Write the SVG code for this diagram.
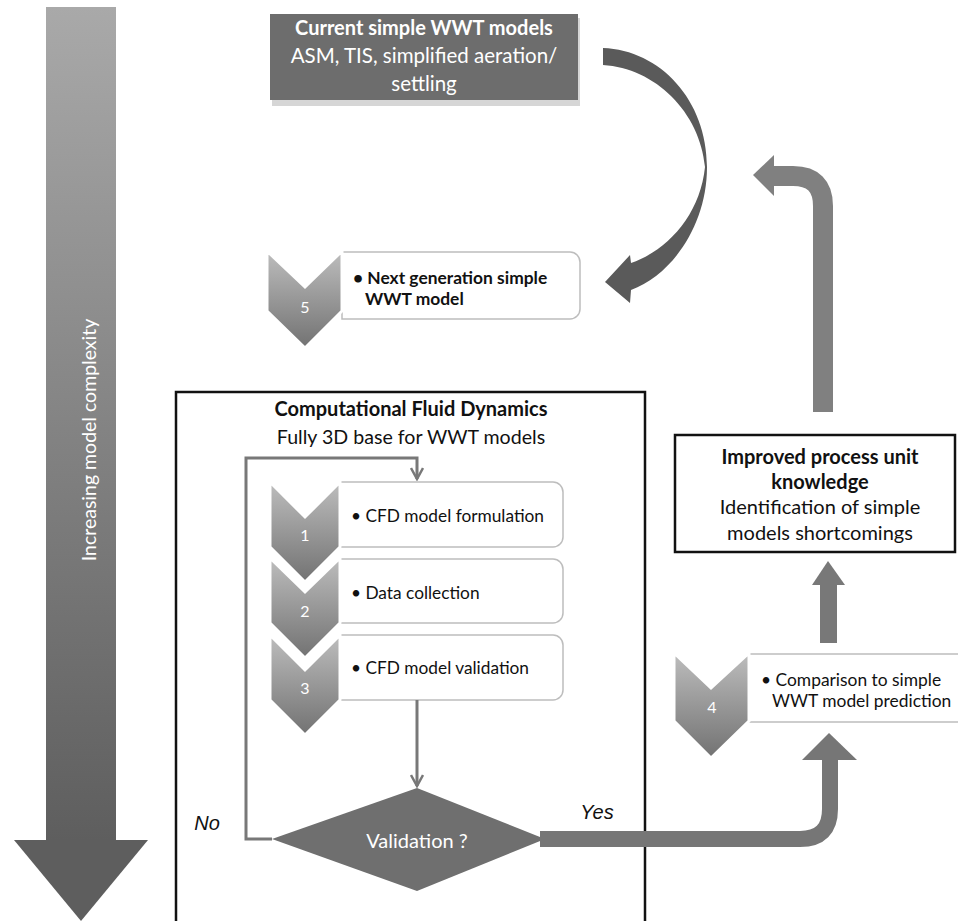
<svg xmlns="http://www.w3.org/2000/svg" width="958" height="921" viewBox="0 0 958 921">
<style>
.t{font-family:Lato,"Open Sans","Liberation Sans",sans-serif;}
.b{font-weight:bold;}
.w{fill:#ffffff;}
.k{fill:#111111;}
.it{font-family:"Liberation Sans",Arial,sans-serif;font-style:italic;font-size:20px;fill:#111;}
.chev{fill:url(#chevGrad);stroke:#ffffff;stroke-width:3;}
.box{fill:#ffffff;stroke:#bdbdbd;stroke-width:1.5;}
.num{font-family:Lato,"Open Sans",sans-serif;font-size:16px;fill:#ffffff;text-anchor:middle;}
.thin{fill:none;stroke:#787878;stroke-width:3;}
.frame{fill:none;stroke:#111;stroke-width:2.5;}
</style>
<defs>
<linearGradient id="chevGrad" x1="0" y1="0" x2="0" y2="1">
<stop offset="0" stop-color="#bdbdbd"/>
<stop offset="1" stop-color="#727272"/>
</linearGradient>
<linearGradient id="bigGrad" x1="0" y1="0" x2="0" y2="1">
<stop offset="0" stop-color="#a9a9a9"/>
<stop offset="1" stop-color="#5e5e5e"/>
</linearGradient>
<marker id="vhead" viewBox="0 0 14 14" refX="12" refY="7" markerWidth="14" markerHeight="14" orient="auto" markerUnits="userSpaceOnUse">
<path d="M1,1 L12,7 L1,13" fill="none" stroke="#787878" stroke-width="2.5"/>
</marker>
</defs>
<rect width="958" height="921" fill="#ffffff"/>

<g id="complexity-arrow">
<rect x="46" y="7" width="70" height="834" fill="url(#bigGrad)"/>
<polygon points="14,840 148,840 81,921" fill="#5e5e5e"/>
<text class="t w" font-size="19.5" transform="translate(88,440) rotate(-90)" text-anchor="middle" dominant-baseline="central">Increasing model complexity</text>
</g>

<g id="current-models">
<rect x="272" y="18" width="308" height="88" fill="#d6d6d6"/>
<rect x="270" y="14" width="308" height="86" fill="#6d6d6d"/>
<text class="t w b" font-size="20" x="424" y="35" text-anchor="middle">Current simple WWT models</text>
<text class="t w" font-size="20.5" x="424" y="63" text-anchor="middle">ASM, TIS, simplified aeration/</text>
<text class="t w" font-size="20.5" x="424" y="91" text-anchor="middle">settling</text>
</g>

<g id="next-gen">
<path class="box" d="M342,252 H570 A10,10 0 0 1 580,262 V309 A10,10 0 0 1 570,319 H342 Z"/>
<polygon class="chev" points="267,251 305,287 342,251 342,311 305,348 267,311"/>
<text class="num" x="305" y="313">5</text>
<text class="t b k" font-size="17.4" x="353" y="284">• Next generation simple<tspan x="365" y="305">WWT model</tspan></text>
</g>

<g id="cfd-frame">
<path class="frame" d="M176,925 V392 H645 V925"/>
<text class="t b k" font-size="20" x="411" y="416" text-anchor="middle">Computational Fluid Dynamics</text>
<text class="t k" font-size="19.6" x="411" y="444" text-anchor="middle">Fully 3D base for WWT models</text>
</g>

<g id="step1">
<path class="box" d="M340,482 H553 A10,10 0 0 1 563,492 V537 A10,10 0 0 1 553,547 H340 Z"/>
<polygon class="chev" points="270,482 305,517 340,482 340,547 305,582 270,547"/>
<text class="num" x="305" y="541">1</text>
<text class="t k" font-size="17.3" x="351" y="522">• CFD model formulation</text>
</g>

<g id="step2">
<path class="box" d="M340,559 H553 A10,10 0 0 1 563,569 V613 A10,10 0 0 1 553,623 H340 Z"/>
<polygon class="chev" points="270,558 305,592 340,558 340,623 305,658 270,623"/>
<text class="num" x="305" y="617">2</text>
<text class="t k" font-size="17.3" x="351" y="599">• Data collection</text>
</g>

<g id="step3">
<path class="box" d="M340,635 H553 A10,10 0 0 1 563,645 V690 A10,10 0 0 1 553,700 H340 Z"/>
<polygon class="chev" points="270,635 305,670 340,635 340,700 305,735 270,700"/>
<text class="num" x="305" y="694">3</text>
<text class="t k" font-size="17.3" x="351" y="674">• CFD model validation</text>
</g>

<g id="validation">
<polygon points="417,788 545,839 417,891 272,839" fill="#6f6f6f"/>
<text class="t w" font-size="20" x="417" y="848" text-anchor="middle">Validation ?</text>
</g>

<g id="step4">
<path class="box" d="M749,654 H965 V722 H749 Z"/>
<polygon class="chev" points="674,653 711,688 749,653 749,721 711,758 674,721"/>
<text class="num" x="712" y="713">4</text>
<text class="t k" font-size="17.4" x="761" y="686">• Comparison to simple<tspan x="772" y="707">WWT model prediction</tspan></text>
</g>

<g id="improved">
<rect x="675" y="435" width="280" height="117" fill="#ffffff" stroke="#111" stroke-width="2.5"/>
<text class="t b k" font-size="20" x="820" y="464" text-anchor="middle">Improved process unit</text>
<text class="t b k" font-size="20" x="820" y="489" text-anchor="middle">knowledge</text>
<text class="t k" font-size="20" x="820" y="514" text-anchor="middle">Identification of simple</text>
<text class="t k" font-size="20" x="820" y="540" text-anchor="middle">models shortcomings</text>
</g>

<g id="connectors">
<path d="M603,48 C660,50 707,100 707,167 C707,225 672,275 631,290 L630,303 L605,282 L630,255 L631,263 C668,250 700,215 705,167 C700,112 655,68 603,65 Z" fill="#5a5a5a"/>
<path d="M823,412 V206 Q823,176 793,176 H772" fill="none" stroke="#808080" stroke-width="20"/>
<polygon points="774,155 774,196 753,175" fill="#808080"/>
<rect x="820" y="584" width="17" height="59" fill="#787878"/>
<polygon points="812,585 845,585 828,561" fill="#787878"/>
<path d="M540,839 H800 Q830,839 830,809 V758" fill="none" stroke="#767676" stroke-width="16"/>
<polygon points="802,760 857,760 829,733" fill="#767676"/>
<path class="thin" d="M272,839 H246 V458 H417 V479" marker-end="url(#vhead)"/>
<path class="thin" d="M417,700 V786" marker-end="url(#vhead)"/>
<text class="it" x="207" y="830" text-anchor="middle">No</text>
<text class="it" x="597" y="819" text-anchor="middle">Yes</text>
</g>
</svg>
